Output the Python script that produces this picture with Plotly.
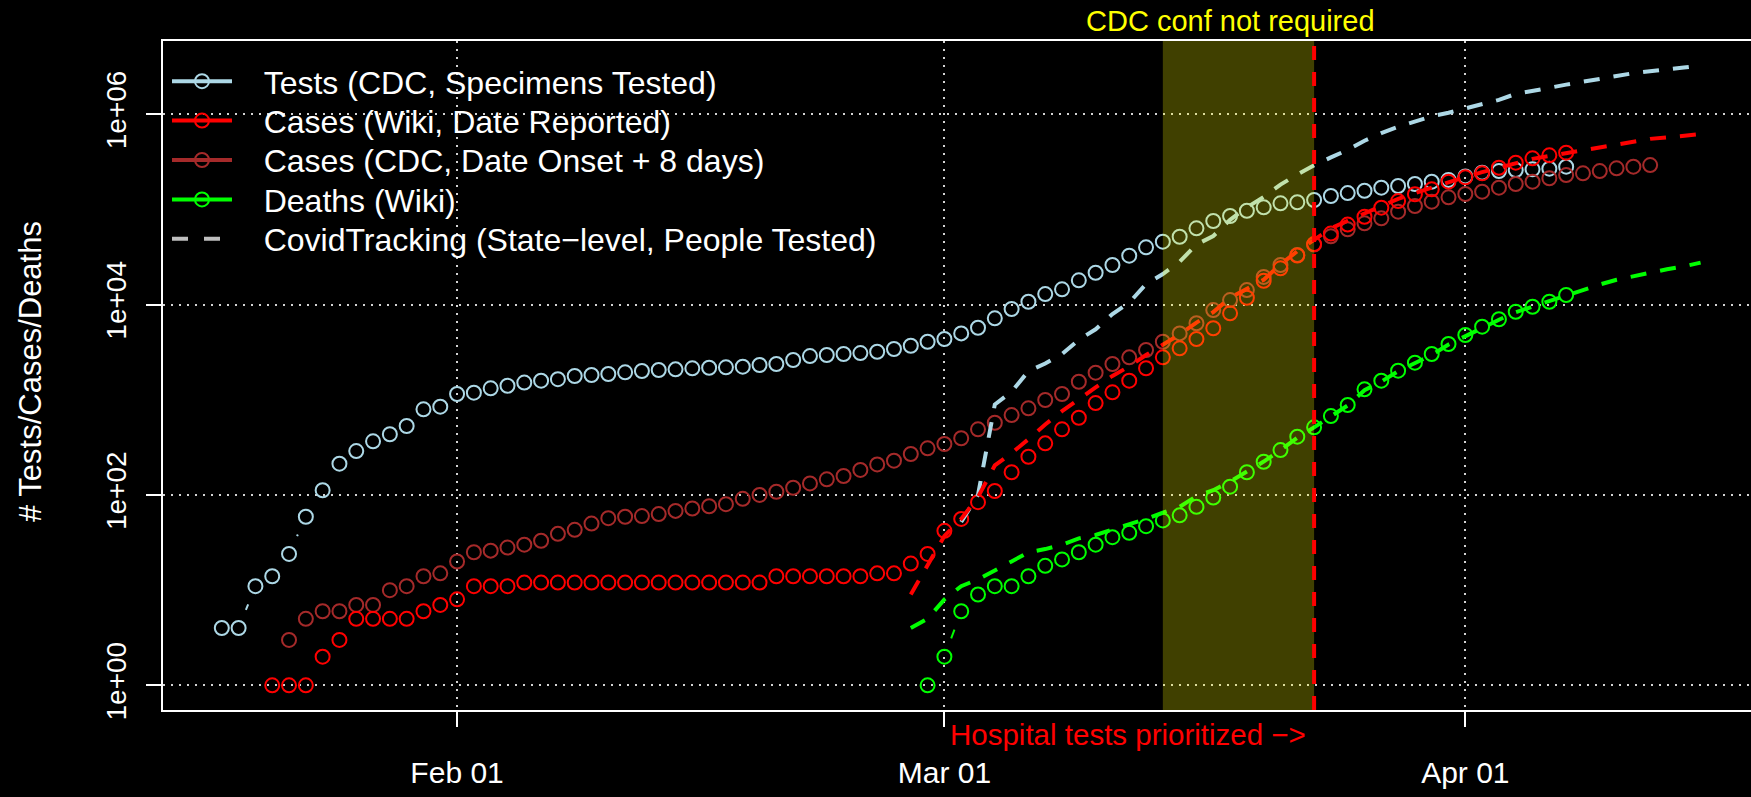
import numpy as np
import pandas as pd
import plotly.graph_objects as go

# ---------------- data ----------------
tests_cdc_start = "2020-01-18"
tests_cdc = [4, 4, 11, 14, 24, 59, 112, 213, 289, 366,
             434, 530, 793, 845, 1148, 1186, 1318, 1403, 1514, 1585,
             1644, 1774, 1820, 1862, 1941, 2004, 2051, 2084, 2138, 2168,
             2188, 2223, 2317, 2371, 2612, 2877, 2951, 3020, 3090, 3192,
             3412, 3690, 4064, 4345, 4977, 5702, 7161, 8974, 10691, 12882,
             14454, 17947, 21577, 26002, 32584, 39902, 45709, 51523, 63096, 75336,
             85114, 96605, 104954, 115611, 118577, 125314, 138038, 148251, 156675, 168655,
             175792, 184502, 194984, 203236, 221309, 242661, 252348, 258226, 263027, 267301,
             280543]

cases_wiki_start = "2020-01-21"
cases_wiki = [1, 1, 1, 2, 3, 5, 5, 5, 5, 6,
              7, 8, 11, 11, 11, 12, 12, 12, 12, 12,
              12, 12, 12, 12, 12, 12, 12, 12, 12, 12,
              14, 14, 14, 14, 14, 14, 15, 15, 19, 24,
              42, 56, 84, 110, 173, 252, 348, 489, 647, 923,
              1196, 1584, 2140, 2790, 3467, 4343, 5630, 8090, 11776, 17783,
              23988, 32734, 43152, 55590, 69183, 83560, 103992, 122180, 143880, 162181,
              194984, 216770, 238781, 273527, 309030, 343558, 368978, 393550]

cases_cdc_start = "2020-01-22"
cases_cdc = [3, 5, 6, 6, 7, 7, 10, 11, 14, 15,
             20, 25, 26, 28, 30, 33, 39, 43, 50, 57,
             59, 60, 63, 68, 72, 76, 80, 91, 100, 108,
             119, 132, 146, 158, 183, 209, 229, 269, 309, 343,
             394, 489, 573, 690, 813, 993, 1148, 1545, 1923, 2371,
             2786, 3327, 4064, 4977, 6353, 8750, 11143, 14191, 19498, 26002,
             33113, 42658, 51999, 61660, 71285, 80353, 94406, 108393, 120226, 133660,
             144877, 153109, 168655, 184502, 194984, 211836, 229087, 238781, 252348, 269774,
             280543, 291743]

deaths_wiki_start = "2020-02-29"
deaths_wiki = [1, 2, 6, 9, 11, 11, 14, 18, 21, 25,
               30, 36, 40, 47, 54, 61, 75, 94, 122, 173,
               223, 296, 409, 513, 674, 880, 1285, 1585, 2018, 2449,
               3020, 3846, 4786, 5848, 6998, 8395, 9484, 10691, 12589]

ct_tests_start = "2020-03-02"
ct_tests = [52, 100, 891, 1216, 1995, 2399, 3020, 4266, 5495, 7943,
            10471, 16406, 20893, 28184, 42658, 52481, 77625, 104713, 134896, 181970,
            231739, 289734, 350752, 421697, 524807, 630957, 734514, 841395, 950604, 1035142,
            1148154, 1276439, 1412538, 1629296, 1737801, 1888175, 2041738, 2172701, 2317395, 2511886,
            2691535, 2798981, 2951209, 3090295, 3235937]

ct_cases_start = "2020-02-28"
ct_cases = [9, 18, 37, 56, 95, 204, 275, 385, 550, 759,
            1023, 1349, 1778, 2239, 2951, 3758, 4842, 6457, 8318, 11749,
            14454, 18197, 26303, 36308, 47863, 63096, 75858, 91201, 109648, 128825,
            147911, 169824, 194984, 218776, 245471, 275423, 309030, 338844, 363078, 389045,
            421697, 451856, 478630, 512861, 549541, 568853, 588844, 616595]

ct_deaths_start = "2020-02-28"
ct_deaths = [4, 5, 8, 11, 13, 16, 20, 25, 27, 30,
             35, 38, 43, 49, 56, 65, 75, 97, 112, 138,
             174, 224, 295, 398, 513, 676, 871, 1259, 1549, 1995,
             2399, 2951, 3802, 4677, 5754, 6918, 8318, 9550, 10715, 12303,
             14454, 16218, 18197, 19953, 21878, 23442, 25119, 27542]

x_tick_dates = ["2020-02-01", "2020-03-01", "2020-04-01"]
x_tick_text = ["Feb 01", "Mar 01", "Apr 01"]
y_tick_vals = [1, 100, 10000, 1000000]
y_tick_text = ["1e+00", "1e+02", "1e+04", "1e+06"]

shade_start, shade_end = "2020-03-14", "2020-03-23"

legend_names = ["Tests (CDC, Specimens Tested)",
                "Cases (Wiki, Date Reported)",
                "Cases (CDC, Date Onset + 8 days)",
                "Deaths (Wiki)",
                "CovidTracking (State\u2212level, People Tested)"]

# ---------------- layout geometry ----------------
W, H = 1751, 797
PL, PR, PT, PB = 163, 1751, 41, 710
x_range = [pd.Timestamp("2020-01-14 12:00"), pd.Timestamp("2020-04-18 00:00")]
y_range = [-0.259, 6.768]
px_per_day = (PR - PL) / ((x_range[1] - x_range[0]).total_seconds() / 86400)
px_per_dec = (PB - PT) / (y_range[1] - y_range[0])
GAP = 19.5  # R type="b" gap around each point, px

LIGHTBLUE = "#ADD8E6"
RED = "#FF0000"
BROWN = "#A52A2A"
GREEN = "#00FF00"
GREY = "#BEBEBE"
FONT = "Liberation Sans, Arial, Helvetica, sans-serif"


def dates_for(start, vals):
    return list(pd.date_range(start, periods=len(vals), freq="D"))


def gapped_segments(dates, vals):
    """Line pieces between consecutive points, shortened like R's type='b'."""
    xs, ys = [], []
    t = np.array([(d - x_range[0]).total_seconds() / 86400 for d in dates])
    ly = np.log10(np.array(vals, dtype=float))
    for i in range(len(t) - 1):
        dx = (t[i + 1] - t[i]) * px_per_day
        dy = (ly[i + 1] - ly[i]) * px_per_dec
        L = np.hypot(dx, dy)
        if L > 2 * GAP:
            f = GAP / L
            for ff in (f, 1 - f):
                xs.append(x_range[0] + pd.Timedelta(days=float(t[i] + ff * (t[i + 1] - t[i]))))
                ys.append(10 ** (ly[i] + ff * (ly[i + 1] - ly[i])))
            xs.append(None)
            ys.append(None)
    return xs, ys


fig = go.Figure()

point_series = [
    (tests_cdc_start, tests_cdc, LIGHTBLUE),
    (cases_cdc_start, cases_cdc, BROWN),
    (cases_wiki_start, cases_wiki, RED),
    (deaths_wiki_start, deaths_wiki, GREEN),
]
for start, vals, col in point_series:
    d = dates_for(start, vals)
    sx, sy = gapped_segments(d, vals)
    if sx:
        fig.add_trace(go.Scatter(x=sx, y=sy, mode="lines", line=dict(color=col, width=2),
                                 showlegend=False, hoverinfo="skip"))
    fig.add_trace(go.Scatter(x=d, y=vals, mode="markers",
                             marker=dict(symbol="circle-open", size=14, color=col,
                                         line=dict(width=2, color=col)),
                             showlegend=False))

dash_series = [
    (ct_tests_start, ct_tests, LIGHTBLUE),
    (ct_cases_start, ct_cases, RED),
    (ct_deaths_start, ct_deaths, GREEN),
]
for start, vals, col in dash_series:
    d = dates_for(start, vals)
    fig.add_trace(go.Scatter(x=d, y=vals, mode="lines",
                             line=dict(color=col, width=4, dash="16px,14px"),
                             showlegend=False))

# legend entries: one small legend per row so the row spacing matches the original
NB = "\u00a0\u00a0\u00a0"
legend_ids = ["legend", "legend2", "legend3", "legend4", "legend5"]
legend_cols = [LIGHTBLUE, RED, BROWN, GREEN]
for i, (name, col) in enumerate(zip(legend_names[:4], legend_cols)):
    fig.add_trace(go.Scatter(x=[None], y=[None], mode="lines+markers", name=NB + name,
                             legend=legend_ids[i],
                             line=dict(color=col, width=4),
                             marker=dict(symbol="circle-open", size=14, color=col,
                                         line=dict(width=2, color=col))))
fig.add_trace(go.Scatter(x=[None], y=[None], mode="lines", name=NB + legend_names[4],
                         legend=legend_ids[4],
                         line=dict(color=GREY, width=4, dash="16px,16px")))

row_centers = [81.4, 120.8, 160.2, 199.6, 239.0]
legend_layout = {}
for lid, c in zip(legend_ids, row_centers):
    legend_layout[lid] = dict(x=4 / (PR - PL), y=(PB - c) / (PB - PT), xanchor="left",
                              yanchor="middle", bgcolor="rgba(0,0,0,0)",
                              font=dict(size=32, color="white", family=FONT),
                              itemwidth=60, traceorder="normal")

fig.add_shape(type="rect", xref="x", yref="paper", x0=shade_start, x1=shade_end, y0=0, y1=1,
              fillcolor="rgba(255,255,0,0.25)", line=dict(width=0), layer="above")
fig.add_shape(type="line", xref="x", yref="paper", x0=shade_end, x1=shade_end, y0=0, y1=1,
              line=dict(color=RED, width=4, dash="14px,12px"), layer="above")

mid = pd.Timestamp(shade_start) + (pd.Timestamp(shade_end) - pd.Timestamp(shade_start)) / 2
fig.add_annotation(x=mid, y=1, xref="x", yref="paper", text="CDC conf not required",
                   showarrow=False, yanchor="middle", yshift=20, xshift=-8,
                   font=dict(color="#FFFF00", size=29, family=FONT))
fig.add_annotation(x="2020-03-01", y=0, xref="x", yref="paper",
                   text="Hospital tests prioritized \u2212>",
                   showarrow=False, xanchor="left", yanchor="middle", xshift=4, yshift=-24,
                   font=dict(color=RED, size=29.5, family=FONT))
fig.add_annotation(x=(31 - PL) / (PR - PL), y=(PB - 372) / (PB - PT), xref="paper", yref="paper",
                   text="# Tests/Cases/Deaths", textangle=-90, showarrow=False,
                   xanchor="center", yanchor="middle",
                   font=dict(color="white", size=31, family=FONT))

fig.update_layout(
    width=W, height=H,
    paper_bgcolor="black", plot_bgcolor="black",
    margin=dict(l=PL, r=W - PR, t=PT, b=H - PB, autoexpand=False),
    font=dict(family=FONT, color="white", size=30),
    showlegend=True,
    xaxis=dict(type="date", range=x_range, showline=True, linecolor="white", linewidth=2,
               mirror=True, ticks="outside", ticklen=15, tickwidth=2, tickcolor="white",
               tickvals=x_tick_dates, ticktext=x_tick_text, tickfont=dict(size=30, color="white"),
               showgrid=True, gridcolor="#D3D3D3", gridwidth=2, griddash="2px,6px",
               zeroline=False, ticklabelstandoff=20),
    yaxis=dict(type="log", range=y_range, showline=True, linecolor="white", linewidth=2,
               mirror=False, ticks="outside", ticklen=15, tickwidth=2, tickcolor="white",
               tickvals=y_tick_vals, ticktext=y_tick_text, tickangle=-90,
               tickfont=dict(size=28, color="white"),
               showgrid=True, gridcolor="#D3D3D3", gridwidth=2, griddash="2px,6px",
               zeroline=False, ticklabelstandoff=9),
    **legend_layout,
)

fig.write_html(
    "out.html",
    config={"displayModeBar": False},
    post_script="document.body.style.margin='0px';document.body.style.backgroundColor='black';",
)
